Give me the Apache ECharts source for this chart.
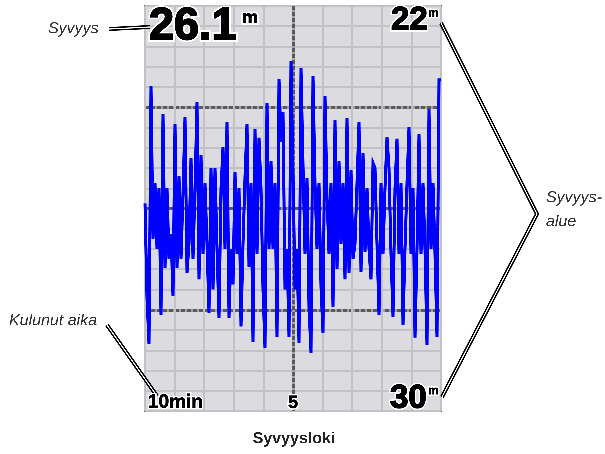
<!DOCTYPE html>
<html>
<head>
<meta charset="utf-8">
<style>
  html, body { margin: 0; padding: 0; background: #ffffff; }
  #chart { width: 605px; height: 454px; }
</style>
<script src="https://cdn.jsdelivr.net/npm/echarts@6/dist/echarts.min.js"></script>
</head>
<body>
<div id="chart"></div>
<script>
// Depth range shown on the log (metres, top to bottom)
const depthRange = [22, 30];
// Current depth readout
const currentDepth = '26.1';
// Elapsed-time window in minutes and its tick labels
const timeWindow = 10;
const timeTicks = [10, 5];
const timeTickLabels = ['10min', '5'];
// Callout captions
const captionDepth = 'Syvyys';
const captionTime = 'Kulunut aika';
const captionRange = ['Syvyys-', 'alue'];
const chartTitle = 'Syvyysloki';

// Depth samples over the window (m), oldest first
const depth = [
  25.9, 27.77, 28.68, 23.58, 26.6, 25.5, 26.8, 25.6, 28.10, 24.13,
  27.18, 25.6, 27.0, 26.5, 27.73, 24.33, 27.18, 25.36, 27.0, 25.7,
  24.19, 27.27, 26.7, 25.0, 27.0, 25.6, 23.9, 27.4, 24.94, 26.9,
  25.5, 26.7, 28.06, 25.2, 27.6, 25.2, 26.8, 28.16, 25.6, 24.79,
  26.8, 24.29, 28.16, 26.8, 27.5, 25.28, 26.9, 25.6, 28.33, 26.7,
  25.38, 24.33, 27.16, 25.5, 28.64, 24.43, 26.9, 24.6, 25.6, 27.6,
  28.76, 23.92, 26.8, 25.06, 26.8, 25.5, 28.54, 23.44, 24.69, 24.09,
  27.6, 26.8, 28.54, 23.08, 25.3, 27.6, 26.8, 28.66, 23.23, 25.14,
  26.9, 25.4, 27.96, 28.85, 23.38, 25.5, 26.8, 25.5, 27.55, 28.46,
  23.78, 25.77, 26.9, 25.5, 27.95, 24.25, 27.2, 25.06, 26.7, 25.5,
  27.4, 24.21, 27.27, 25.24, 27.0, 26.7, 25.5, 24.29, 27.26, 24.9,
  26.86, 25.6, 26.8, 27.4, 25.1, 25.2, 26.7, 28.1, 25.5, 26.9,
  25.6, 24.59, 25.2, 26.9, 28.14, 25.6, 24.62, 26.9, 25.5, 28.3,
  26.8, 25.5, 24.39, 26.9, 25.6, 28.55, 26.8, 24.53, 26.9, 25.5,
  26.8, 28.7, 24.03, 26.8, 25.5, 26.9, 28.54, 23.46
];

// Each sample holds its depth for one sampling interval, so the trace is stepped
const sampleStep = timeWindow / depth.length;
const points = [];
depth.forEach((d, i) => {
  points.push([i * sampleStep, d]);
  points.push([(i + 1) * sampleStep, d]);
});

// A higher backing resolution keeps the 2px steps from being merged away
const chart = echarts.init(document.getElementById('chart'), null, { renderer: 'canvas', devicePixelRatio: 3 });

const hiddenAxis = {
  axisLine: { show: false },
  axisTick: { show: false },
  axisLabel: { show: false }
};

const FONT = '"Liberation Sans", Arial, sans-serif';

chart.setOption({
  animation: false,
  grid: {
    left: 145, top: 6, width: 296, height: 405,
    show: true,
    backgroundColor: '#dcdbe0',
    borderColor: '#4d4d4d',
    borderWidth: 2
  },
  xAxis: [
    Object.assign({
      type: 'value', min: 0, max: timeWindow, interval: 1,
      splitLine: { show: true, lineStyle: { color: '#c2c1c6', width: 1.5 } }
    }, hiddenAxis),
    Object.assign({
      type: 'value', min: 0, max: timeWindow, interval: 5,
      splitLine: { show: true, lineStyle: { color: ['transparent', '#a3a3a6', 'transparent'], width: 3 } }
    }, hiddenAxis),
    Object.assign({
      type: 'value', min: 0, max: timeWindow, interval: 5,
      splitLine: { show: true, lineStyle: { color: ['transparent', '#5a5a5a', 'transparent'], width: 3, type: [4, 2] } }
    }, hiddenAxis)
  ],
  yAxis: [
    Object.assign({
      type: 'value', min: depthRange[0], max: depthRange[1], interval: 0.4, inverse: true,
      splitLine: { show: true, lineStyle: { color: '#c2c1c6', width: 1.5 } }
    }, hiddenAxis),
    Object.assign({
      type: 'value', min: depthRange[0], max: depthRange[1], interval: 2, inverse: true,
      splitLine: { show: true, lineStyle: { color: ['transparent', '#a3a3a6', '#a3a3a6', '#a3a3a6', 'transparent'], width: 3 } }
    }, hiddenAxis),
    Object.assign({
      type: 'value', min: depthRange[0], max: depthRange[1], interval: 2, inverse: true,
      splitLine: { show: true, lineStyle: { color: ['transparent', '#5a5a5a', '#5a5a5a', '#5a5a5a', 'transparent'], width: 3, type: [4, 2] } }
    }, hiddenAxis)
  ],
  series: [{
    type: 'line',
    xAxisIndex: 0,
    yAxisIndex: 0,
    data: points,
    symbol: 'none',
    clip: true,
    lineStyle: { color: '#0000ff', width: 3, join: 'miter', cap: 'butt' },
    z: 5
  }]
});

// Pixel positions from the chart's own scales
const px = (t, d) => chart.convertToPixel({ xAxisIndex: 0, yAxisIndex: 0 }, [t, d]);
const cornerTL = px(0, depthRange[0]);
const cornerBR = px(timeWindow, depthRange[1]);
const plotLeft = cornerTL[0], plotRight = cornerBR[0], plotBottom = cornerBR[1];

// Heavy readout text: white halo underneath, then a black stroke to thicken the glyphs
function heavyText(text, x, y, size, align, halo, thick) {
  const base = { text: text, x: x, y: y, font: 'bold ' + size + 'px ' + FONT, align: align, verticalAlign: 'middle' };
  return [
    { type: 'text', z: 100, silent: true, style: Object.assign({ fill: '#000', stroke: '#fff', lineWidth: halo }, base) },
    { type: 'text', z: 101, silent: true, style: Object.assign({ fill: '#000', stroke: '#000', lineWidth: thick }, base) }
  ];
}

function doubleLine(pts) {
  return [
    { type: 'polyline', z: 90, silent: true, shape: { points: pts }, style: { stroke: '#000', lineWidth: 4, fill: null, lineJoin: 'miter' } },
    { type: 'polyline', z: 91, silent: true, shape: { points: pts }, style: { stroke: '#fff', lineWidth: 1.1, fill: null, lineJoin: 'miter' } }
  ];
}

function caption(text, x, y, align) {
  return { type: 'text', z: 100, silent: true, style: { text: text, x: x, y: y, font: 'italic 16px ' + FONT, fill: '#333', align: align || 'left', verticalAlign: 'middle' } };
}

const tickFive = px(timeWindow - timeTicks[1], depthRange[1]);

let g = [];
// callouts
g = g.concat(doubleLine([[109, 29], [150, 27]]));
g = g.concat(doubleLine([[107, 325], [157, 396]]));
g = g.concat(doubleLine([[plotRight, 23], [537, 214], [plotRight + 1, 397]]));
// current depth
g = g.concat(heavyText(currentDepth, plotLeft + 4, 27, 45, 'left', 5, 1.6));
g = g.concat(heavyText('m', plotLeft + 97, 18, 18, 'left', 4, 0.6));
// range readouts
g = g.concat(heavyText(String(depthRange[0]), plotRight - 50, 20.5, 33, 'left', 4, 1.2));
g = g.concat(heavyText('m', plotRight - 13, 13.5, 12, 'left', 3, 0.3));
g = g.concat(heavyText(String(depthRange[1]), plotRight - 51, 398.5, 33, 'left', 4, 1.2));
g = g.concat(heavyText('m', plotRight - 13, 391, 12, 'left', 3, 0.3));
// elapsed-time ticks
g = g.concat(heavyText(timeTickLabels[0], plotLeft + 3, plotBottom - 8.5, 19, 'left', 3, 0.5));
g = g.concat(heavyText(timeTickLabels[1], tickFive[0], plotBottom - 8, 18, 'center', 3, 0.5));
// captions
g.push(caption(captionDepth, 48, 29));
g.push(caption(captionTime, 9, 321));
g.push(caption(captionRange[0], 546, 198));
g.push(caption(captionRange[1], 546, 222));
// title
g.push({ type: 'text', z: 100, silent: true, style: { text: chartTitle, x: 294, y: 439, font: 'bold 16px ' + FONT, fill: '#222', align: 'center', verticalAlign: 'middle' } });

chart.setOption({ graphic: { elements: g } });
</script>
</body>
</html>
